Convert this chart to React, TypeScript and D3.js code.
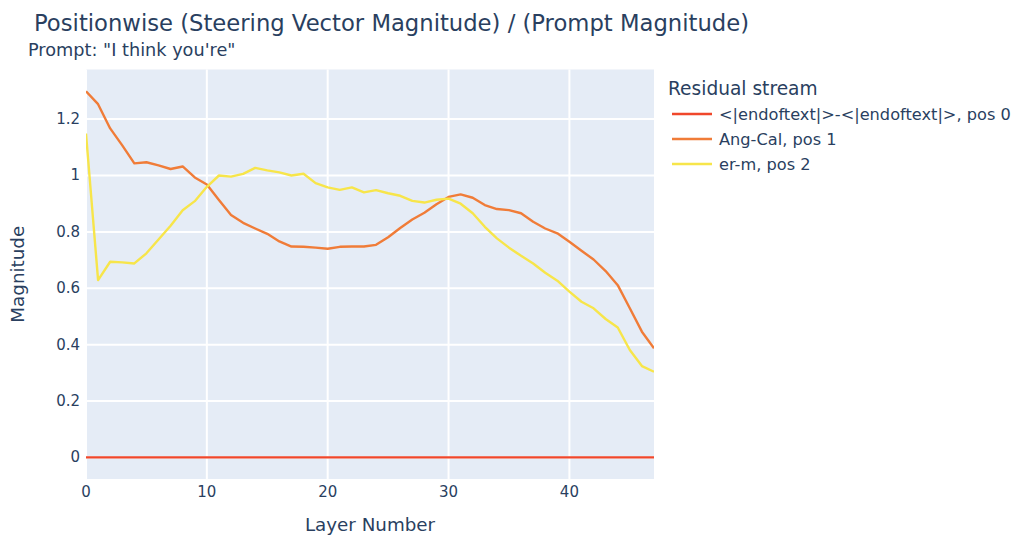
import React from "react";
import * as d3 from "d3";

const layers: number[] = Array.from({ length: 48 }, (_, i) => i);

const endoftextValues: number[] = [
  0, 0, 0, 0, 0, 0, 0, 0, 0, 0, 0, 0, 0, 0, 0, 0, 0, 0, 0, 0, 0, 0, 0, 0,
  0, 0, 0, 0, 0, 0, 0, 0, 0, 0, 0, 0, 0, 0, 0, 0, 0, 0, 0, 0, 0, 0, 0, 0,
];

const angCalValues: number[] = [
  1.299, 1.253, 1.167, 1.107, 1.043, 1.047, 1.036, 1.023, 1.032, 0.993,
  0.968, 0.913, 0.86, 0.832, 0.812, 0.793, 0.766, 0.748, 0.747, 0.744,
  0.74, 0.747, 0.748, 0.748, 0.754, 0.781, 0.814, 0.844, 0.868, 0.898,
  0.924, 0.933, 0.921, 0.895, 0.881, 0.877, 0.866, 0.836, 0.812, 0.795,
  0.765, 0.733, 0.702, 0.661, 0.611, 0.529, 0.446, 0.387,
];

const erMValues: number[] = [
  1.149, 0.629, 0.694, 0.692, 0.688, 0.724, 0.773, 0.822, 0.877, 0.909,
  0.96, 1.0, 0.996, 1.006, 1.027, 1.018, 1.011, 1.0, 1.006, 0.973,
  0.958, 0.949, 0.958, 0.94, 0.948, 0.937, 0.928, 0.91, 0.904, 0.914,
  0.918, 0.9, 0.866, 0.818, 0.777, 0.744, 0.715, 0.688, 0.655, 0.627,
  0.588, 0.552, 0.529, 0.491, 0.461, 0.381, 0.324, 0.304,
];

const seriesNames: string[] = [
  "<|endoftext|>-<|endoftext|>, pos 0",
  "Ang-Cal, pos 1",
  "er-m, pos 2",
];
const seriesColors: string[] = ["#F0472B", "#F07C38", "#F7E54A"];

const xTicks: number[] = [0, 10, 20, 30, 40];
const yTicks: number[] = [0, 0.2, 0.4, 0.6, 0.8, 1, 1.2];

const titleText = "Positionwise (Steering Vector Magnitude) / (Prompt Magnitude)";
const subtitleText = 'Prompt: "I think you\'re"';
const xTitle = "Layer Number";
const yTitle = "Magnitude";
const legendTitle = "Residual stream";

export default function App() {
  const W = 1030;
  const H = 537;
  const left = 86;
  const right = 654;
  const top = 69.5;
  const bottom = 479;
  const font = "'DejaVu Sans', verdana, arial, sans-serif";
  const textColor = "#2a3f5f";

  const x = d3.scaleLinear().domain([0, 47]).range([left, right]);
  const y = d3.scaleLinear().domain([-0.0766, 1.376]).range([bottom, top]);

  const series = [endoftextValues, angCalValues, erMValues];
  const line = d3
    .line<number>()
    .x((_, i) => x(layers[i]))
    .y((d) => y(d));

  const fmt = (v: number) => (v === 0 ? "0" : d3.format("~g")(v));

  return (
    <svg
      width={W}
      height={H}
      style={{ position: "absolute", left: 0, top: 0, background: "#fff" }}
    >
      <rect x={left} y={top} width={right - left} height={bottom - top} fill="#E5ECF6" />
      {xTicks.map((t) => (
        <line key={"gx" + t} x1={x(t)} x2={x(t)} y1={top} y2={bottom} stroke="#fff" strokeWidth={2} />
      ))}
      {yTicks.map((t) => (
        <line key={"gy" + t} x1={left} x2={right} y1={y(t)} y2={y(t)} stroke="#fff" strokeWidth={2} />
      ))}
      <defs>
        <clipPath id="plotclip">
          <rect x={left} y={top} width={right - left} height={bottom - top} />
        </clipPath>
      </defs>
      <g clipPath="url(#plotclip)">
        {series.map((s, i) => (
          <path key={"s" + i} d={line(s) || ""} fill="none" stroke={seriesColors[i]} strokeWidth={2.4} strokeLinejoin="round" />
        ))}
      </g>
      {xTicks.map((t) => (
        <text key={"xt" + t} x={x(t)} y={497} textAnchor="middle" fontFamily={font} fontSize={15} fill={textColor}>
          {t}
        </text>
      ))}
      {yTicks.map((t) => (
        <text key={"yt" + t} x={80} y={y(t) + 5} textAnchor="end" fontFamily={font} fontSize={15} fill={textColor}>
          {fmt(t)}
        </text>
      ))}
      <text x={(left + right) / 2} y={531} textAnchor="middle" fontFamily={font} fontSize={18.3} fill={textColor}>
        {xTitle}
      </text>
      <text
        transform={`translate(24, ${(top + bottom) / 2}) rotate(-90)`}
        textAnchor="middle"
        fontFamily={font}
        fontSize={18.3}
        fill={textColor}
      >
        {yTitle}
      </text>
      <text x={34} y={31} fontFamily={font} fontSize={22.7} fill={textColor}>
        {titleText}
      </text>
      <text x={28} y={56} fontFamily={font} fontSize={17.7} fill={textColor}>
        {subtitleText}
      </text>
      <text x={668} y={95} fontFamily={font} fontSize={18.6} fill={textColor}>
        {legendTitle}
      </text>
      {seriesNames.map((n, i) => (
        <g key={"lg" + i} transform={`translate(672, ${114 + i * 25})`}>
          <line x1={0} x2={40} y1={0} y2={0} stroke={seriesColors[i]} strokeWidth={2.4} />
          <text x={47} y={5.5} fontFamily={font} fontSize={16.2} fill={textColor}>
            {n}
          </text>
        </g>
      ))}
    </svg>
  );
}
